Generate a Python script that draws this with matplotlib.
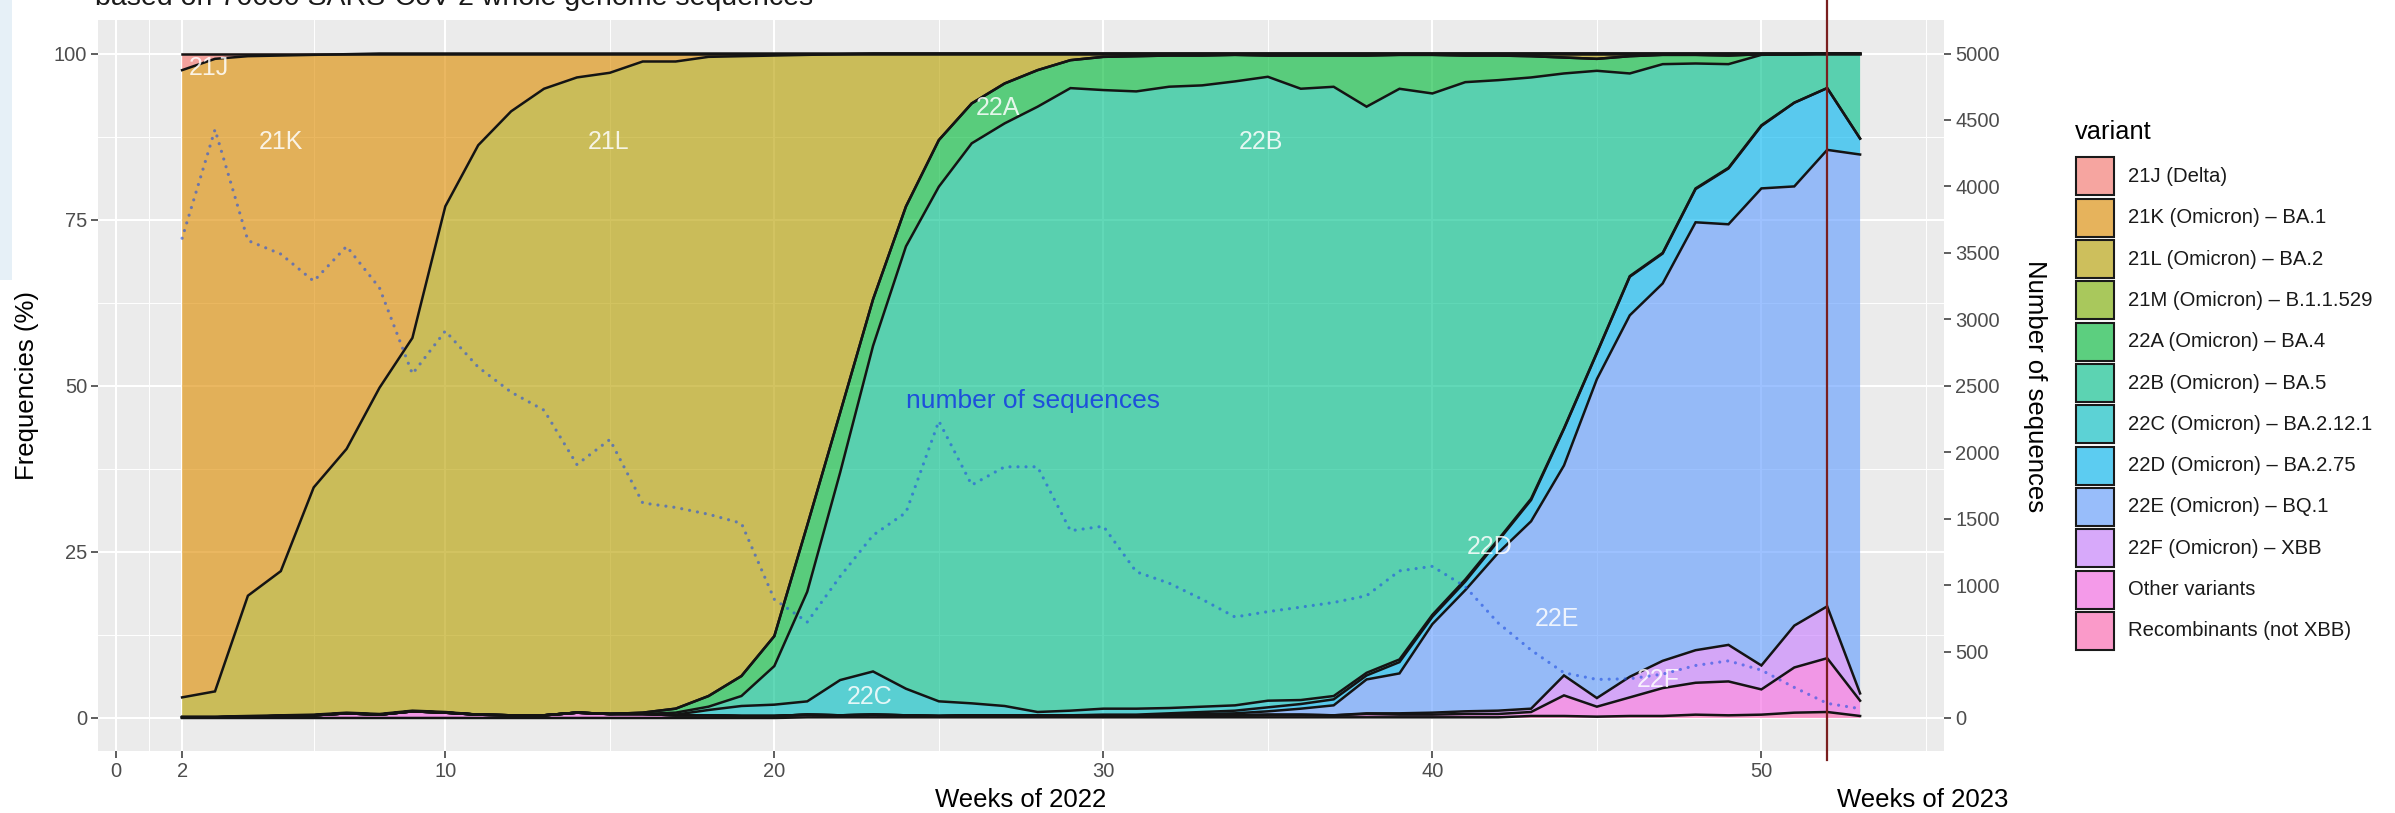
import numpy as np
import matplotlib
matplotlib.use("Agg")
import matplotlib.pyplot as plt
import matplotlib.transforms as mtransforms
from matplotlib.patches import Rectangle
from matplotlib.lines import Line2D
from matplotlib.colors import to_rgb

plt.rcParams['font.family'] = ['Liberation Sans', 'DejaVu Sans']

W, H, DPI = 2395, 813, 100

# ---------------------------------------------------------------- data
weeks = list(range(2, 54))

variant_codes = ['21J', '21K', '21L', '21M', '22A', '22B', '22C', '22D',
                 '22E', '22F', 'Other', 'Recomb']
variant_labels = ['21J (Delta)', '21K (Omicron) \u2013 BA.1', '21L (Omicron) \u2013 BA.2',
                  '21M (Omicron) \u2013 B.1.1.529', '22A (Omicron) \u2013 BA.4',
                  '22B (Omicron) \u2013 BA.5', '22C (Omicron) \u2013 BA.2.12.1',
                  '22D (Omicron) \u2013 BA.2.75', '22E (Omicron) \u2013 BQ.1',
                  '22F (Omicron) \u2013 XBB', 'Other variants', 'Recombinants (not XBB)']
variant_colors = ['#F8766D', '#DE8C00', '#B79F00', '#7CAE00', '#00BA38', '#00C08B',
                  '#00BFC4', '#00B4F0', '#619CFF', '#C77CFF', '#F564E3', '#FF64B0']

# weekly share (%) of each variant, weeks 2..53
share_21J = [2.5, 0.8, 0.4, 0.3, 0.2, 0.1, 0, 0, 0, 0,
             0, 0, 0, 0, 0, 0, 0, 0, 0, 0,
             0, 0, 0, 0, 0, 0, 0, 0, 0, 0,
             0, 0, 0, 0, 0, 0, 0, 0, 0, 0,
             0, 0, 0, 0, 0, 0, 0, 0, 0, 0,
             0, 0]
share_21K = [94.4, 95.2, 81.2, 77.6, 65.1, 59.4, 50.3, 42.8, 23.0, 13.8,
             8.7, 5.3, 3.6, 2.9, 1.2, 1.2, 0.5, 0.4, 0.3, 0.2,
             0.1, 0, 0, 0, 0, 0, 0, 0, 0, 0,
             0, 0, 0, 0, 0, 0, 0, 0, 0, 0,
             0, 0, 0, 0, 0, 0, 0, 0, 0, 0,
             0, 0]
share_21L = [2.9, 3.8, 18.1, 21.7, 34.2, 39.7, 49.1, 56.1, 76.1, 85.7,
             90.9, 94.3, 95.6, 96.5, 98.0, 97.3, 96.1, 93.1, 87.2, 70.8,
             53.9, 37.0, 23.0, 13.0, 7.5, 4.5, 2.5, 1.0, 0.5, 0.4,
             0.3, 0.3, 0.2, 0.3, 0.3, 0.3, 0.3, 0.2, 0.2, 0.3,
             0.3, 0.4, 0.6, 0.8, 0.4, 0.2, 0.2, 0.3, 0.1, 0.1,
             0, 0]
share_21M = [0.1, 0.1, 0.1, 0.1, 0.1, 0.1, 0.1, 0.1, 0.1, 0,
             0, 0, 0, 0, 0, 0, 0, 0, 0, 0,
             0, 0, 0, 0, 0, 0, 0, 0, 0, 0,
             0, 0, 0, 0, 0, 0, 0, 0, 0, 0,
             0, 0, 0, 0, 0, 0, 0, 0, 0, 0,
             0, 0]
share_22A = [0, 0, 0, 0, 0, 0, 0, 0, 0, 0,
             0, 0, 0, 0, 0.2, 0.6, 1.6, 3.0, 4.5, 10.0,
             9.0, 7.0, 6.0, 7.0, 6.0, 6.0, 5.5, 4.2, 5.0, 5.3,
             4.7, 4.5, 4.0, 3.2, 5.0, 4.7, 7.7, 5.1, 5.8, 4.0,
             3.7, 3.2, 2.4, 1.8, 2.6, 1.4, 1.3, 1.3, 0.1, 0,
             0, 0]
share_22B = [0, 0, 0, 0, 0, 0, 0, 0, 0, 0,
             0, 0, 0, 0, 0, 0.3, 0.5, 1.5, 5.8, 16.5,
             31.2, 49.0, 66.5, 77.3, 84.2, 87.6, 91.0, 93.6, 93.1, 92.9,
             93.6, 93.6, 94.0, 93.9, 92.0, 91.6, 85.2, 85.8, 78.3, 74.7,
             69.0, 63.4, 53.4, 42.4, 30.5, 28.4, 18.8, 15.6, 10.6, 7.3,
             5.2, 12.8]
share_22C = [0, 0, 0, 0, 0, 0, 0, 0, 0, 0,
             0, 0, 0, 0, 0, 0.1, 0.8, 1.5, 1.7, 2.0,
             5.3, 6.5, 4.0, 2.2, 1.8, 1.4, 0.5, 0.7, 0.9, 0.9,
             0.8, 0.8, 0.8, 1.0, 0.6, 0.5, 0.4, 0.4, 0.3, 0.3,
             0.2, 0.2, 0.1, 0.1, 0.1, 0.1, 0.1, 0.1, 0.1, 0,
             0, 0]
share_22D = [0, 0, 0, 0, 0, 0, 0, 0, 0, 0,
             0, 0, 0, 0, 0, 0, 0, 0, 0, 0,
             0, 0, 0, 0, 0, 0, 0, 0, 0.1, 0.1,
             0.2, 0.3, 0.4, 0.6, 0.7, 0.9, 0.6, 1.7, 1.1, 1.3,
             1.8, 3.2, 5.5, 3.9, 5.8, 4.5, 5.0, 8.4, 9.4, 12.6,
             9.3, 2.4]
share_22E = [0, 0, 0, 0, 0, 0, 0, 0, 0, 0,
             0, 0, 0, 0, 0, 0, 0, 0, 0, 0,
             0, 0, 0, 0, 0, 0, 0, 0, 0, 0,
             0.1, 0.2, 0.3, 0.5, 0.9, 1.5, 5.1, 6.0, 13.3, 18.2,
             23.7, 28.2, 31.6, 48.0, 54.4, 56.8, 64.4, 63.3, 71.8, 66.1,
             68.7, 81.1]
share_22F = [0, 0, 0, 0, 0, 0, 0, 0, 0, 0,
             0, 0, 0, 0, 0, 0, 0, 0, 0, 0,
             0, 0, 0, 0, 0, 0, 0, 0, 0, 0,
             0, 0, 0, 0, 0, 0, 0.1, 0.2, 0.3, 0.4,
             0.5, 0.5, 3.0, 1.3, 3.1, 4.1, 4.9, 5.5, 3.6, 6.3,
             7.8, 1.1]
share_other = [0.1, 0.1, 0.2, 0.3, 0.4, 0.7, 0.5, 1.0, 0.8, 0.5,
               0.4, 0.4, 0.8, 0.6, 0.6, 0.4, 0.4, 0.3, 0.3, 0.4,
               0.3, 0.4, 0.3, 0.2, 0.3, 0.3, 0.3, 0.3, 0.3, 0.3,
               0.3, 0.3, 0.3, 0.4, 0.4, 0.3, 0.5, 0.4, 0.4, 0.5,
               0.5, 0.6, 3.1, 1.5, 2.8, 4.2, 4.8, 5.1, 3.8, 6.8,
               8.1, 2.3]
share_recomb = [0, 0, 0, 0, 0, 0, 0, 0, 0, 0,
                0, 0, 0, 0, 0, 0, 0, 0, 0, 0.1,
                0.1, 0.1, 0.1, 0.1, 0.1, 0.1, 0.1, 0.1, 0.1, 0.1,
                0.1, 0.1, 0.1, 0.1, 0.1, 0.1, 0.1, 0.1, 0.1, 0.1,
                0.1, 0.3, 0.3, 0.2, 0.3, 0.3, 0.5, 0.4, 0.5, 0.8,
                0.9, 0.3]

# number of sequences per week
sequences = [3610, 4428, 3593, 3491, 3287, 3549, 3236, 2589, 2912, 2640,
             2452, 2316, 1907, 2095, 1618, 1584, 1533, 1465, 893, 722,
             1065, 1375, 1546, 2234, 1753, 1890, 1890, 1409, 1443, 1100,
             1014, 893, 760, 800, 834, 869, 920, 1107, 1141, 988,
             715, 511, 340, 290, 295, 330, 395, 430, 360, 230,
             110, 70]

# area labels (code, week, percent)
area_labels = [('21J', 2.8, 97.8), ('21K', 5.0, 86.7), ('21L', 14.95, 86.7),
               ('22A', 26.8, 91.8), ('22B', 34.8, 86.7), ('22C', 22.9, 3.2),
               ('22D', 41.75, 25.7), ('22E', 43.8, 14.9), ('22F', 46.85, 5.7)]

x_major = [0, 2, 10, 20, 30, 40, 50]
x_minor = [1, 6, 15, 25, 35, 45, 55]
y_major = [0, 25, 50, 75, 100]
y_minor = [12.5, 37.5, 62.5, 87.5]
seq_ticks = [0, 500, 1000, 1500, 2000, 2500, 3000, 3500, 4000, 4500, 5000]
year_break = 52

# ---------------------------------------------------------------- figure
fig = plt.figure(figsize=(W / DPI, H / DPI), dpi=DPI)

def px(x, y):
    """pixel position (from top-left) -> figure fraction"""
    return x / W, 1 - y / H

left, right, top, bottom = 98.2, 1944.0, 20.3, 751.2
ax = fig.add_axes([left / W, (H - bottom) / H, (right - left) / W, (bottom - top) / H])
ax.set_facecolor('#EBEBEB')
for s in ax.spines.values():
    s.set_visible(False)

ALPHA = 0.62
shares = np.array([share_21J, share_21K, share_21L, share_21M, share_22A, share_22B,
                   share_22C, share_22D, share_22E, share_22F, share_other, share_recomb],
                  dtype=float)
shares = shares / shares.sum(axis=0) * 100.0

x = np.array(weeks, dtype=float)
stack = shares[::-1]
cols = variant_colors[::-1]
cum = np.cumsum(stack, axis=0)
low = np.vstack([np.zeros(len(x)), cum[:-1]])
for i in range(len(stack)):
    ax.fill_between(x, low[i], cum[i], facecolor=cols[i], alpha=ALPHA,
                    linewidth=0, zorder=2)
for i in range(len(stack)):
    ax.plot(x, cum[i], color='#141414', lw=1.8, zorder=3, solid_joinstyle='miter')

ax.set_xlim(-0.55, 55.55)
ax.set_ylim(-5, 105)
ax.set_xticks(x_major)
ax.set_xticks(x_minor, minor=True)
ax.set_yticks(y_major)
ax.set_yticks(y_minor, minor=True)
ax.set_xticklabels([str(v) for v in x_major])
ax.set_yticklabels([str(v) for v in y_major])
ax.grid(which='major', color='white', lw=1.5, zorder=0)
ax.grid(which='minor', color='white', lw=0.7, zorder=0)
ax.set_axisbelow(True)
ax.tick_params(which='major', length=5, width=1.1, color='#333333',
               labelsize=14.5, labelcolor='#4D4D4D', pad=3)
ax.tick_params(which='minor', length=0)

for code, wx, wy in area_labels:
    ax.text(wx, wy, code, color='white', alpha=0.85, fontsize=18,
            ha='center', va='center', zorder=5)

ax2 = ax.twinx()
ax2.set_ylim(-250, 5250)
ax2.set_yticks(seq_ticks)
ax2.set_yticklabels([str(v) for v in seq_ticks])
ax2.tick_params(length=5, width=1.1, color='#333333', labelsize=14.5,
                labelcolor='#4D4D4D', pad=3)
for s in ax2.spines.values():
    s.set_visible(False)
ax2.plot(x, sequences, color='#1F4FE0', alpha=0.6, lw=2.3,
         linestyle=(0, (0.01, 2.5)), dash_capstyle='round', zorder=6)
ax2.text(27.85, 47.7 * 50, 'number of sequences', color='#1E4FDB', fontsize=19,
         ha='center', va='center', zorder=7)

# boundary between 2022 and 2023
trans = mtransforms.blended_transform_factory(ax.transData, fig.transFigure)
fig.add_artist(Line2D([year_break, year_break], [(H - 760) / H, 1.0], transform=trans,
                      color='#7A1F1F', lw=1.6, zorder=10))

# axis titles and headings
fig.text(*px(95, 5), 'based on 76650 SARS-CoV-2 whole genome sequences',
         fontsize=20.5, color='#1A1A1A', ha='left', va='baseline')
fig.text(*px(27.5, (top + bottom) / 2), 'Frequencies (%)', fontsize=18.5,
         rotation=90, ha='center', va='center')
fig.text(*px(2035, (top + bottom) / 2), 'Number of sequences', fontsize=18.5,
         rotation=270, ha='center', va='center')
fig.text(*px((left + right) / 2, 800), 'Weeks of 2022', fontsize=18.5,
         ha='center', va='center')
fig.text(*px(1837, 800), 'Weeks of 2023', fontsize=18.5, ha='left', va='center')

# legend
key_bg = np.array(to_rgb('#F2F2F2'))
fig.text(*px(2075, 132), 'variant', fontsize=18.3, ha='left', va='center')
row0, pitch, kw, kh = 157.5, 41.3, 38, 38
for i, (lab, col) in enumerate(zip(variant_labels, variant_colors)):
    ytop = row0 + pitch * i
    fc = ALPHA * np.array(to_rgb(col)) + (1 - ALPHA) * key_bg
    x0, y0 = px(2076, ytop + kh)
    fig.add_artist(Rectangle((x0, y0), kw / W, kh / H, transform=fig.transFigure,
                             facecolor=fc, edgecolor='#1A1A1A', lw=1.5))
    fig.text(*px(2128, ytop + kh / 2), lab, fontsize=14.6, color='#1A1A1A',
             ha='left', va='center')

# thin tinted strip at the left edge
fig.add_artist(Rectangle((0, 1 - 280 / H), 12 / W, 280 / H, transform=fig.transFigure,
                         facecolor='#E6F0F7', edgecolor='none', zorder=-5))

fig.savefig('out.png', dpi=DPI)
